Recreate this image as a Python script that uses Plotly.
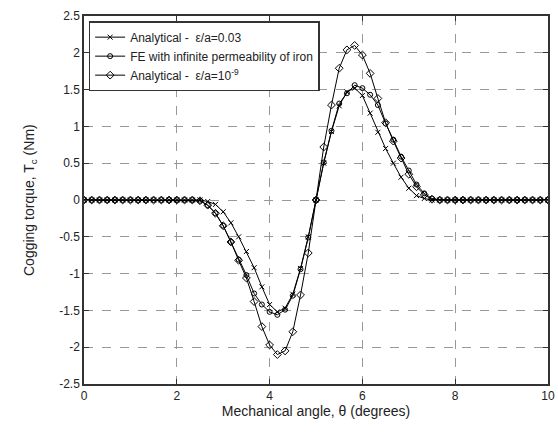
import plotly.graph_objects as go

angle = [i / 6 for i in range(61)]

torque_eps003 = [0]*15 + [0, -0.02, -0.06, -0.16, -0.31, -0.50, -0.70, -0.92, -1.18, -1.42,
                          -1.52, -1.47, -1.28, -0.93, -0.50, 0.0, 0.50, 0.93, 1.28, 1.47,
                          1.52, 1.42, 1.18, 0.92, 0.70, 0.50, 0.31, 0.16, 0.06, 0.02, 0] + [0]*15

torque_fe = [0]*15 + [-0.01, -0.07, -0.18, -0.35, -0.57, -0.81, -1.02, -1.27, -1.42, -1.52,
                      -1.56, -1.49, -1.30, -0.94, -0.51, 0.0, 0.51, 0.94, 1.31, 1.45,
                      1.56, 1.52, 1.43, 1.29, 1.04, 0.82, 0.59, 0.40, 0.21, 0.09, 0.02] + [0]*15

torque_eps1e9 = [0]*15 + [-0.01, -0.07, -0.18, -0.35, -0.57, -0.82, -1.06, -1.38, -1.72, -1.97,
                          -2.10, -2.05, -1.79, -1.29, -0.72, 0.0, 0.72, 1.29, 1.79, 2.04,
                          2.10, 1.97, 1.72, 1.38, 1.05, 0.80, 0.57, 0.35, 0.18, 0.07, 0.01] + [0]*15

x_ticks = [0, 2, 4, 6, 8, 10]
y_ticks = [2.5, 2, 1.5, 1, 0.5, 0, -0.5, -1, -1.5, -2, -2.5]

names = ["Analytical -  \u03b5/a=0.03",
         "FE with infinite permeability of iron",
         "Analytical -  \u03b5/a=10<sup>-9</sup>"]

FONT = "Liberation Sans, Arial"

fig = go.Figure()
fig.add_trace(go.Scatter(x=angle, y=torque_eps003, name=names[0], mode="lines+markers",
                         line=dict(color="black", width=1),
                         marker=dict(symbol="x-thin", size=5, line=dict(color="black", width=1))))
fig.add_trace(go.Scatter(x=angle, y=torque_fe, name=names[1], mode="lines+markers",
                         line=dict(color="black", width=1),
                         marker=dict(symbol="circle-open", size=5, color="black", line=dict(width=1))))
fig.add_trace(go.Scatter(x=angle, y=torque_eps1e9, name=names[2], mode="lines+markers",
                         line=dict(color="black", width=1),
                         marker=dict(symbol="diamond-open", size=6, color="black", line=dict(width=1))))

axis_common = dict(showline=True, linecolor="#333", linewidth=1.5, mirror="ticks",
                   ticks="inside", ticklen=5, tickcolor="#333",
                   showgrid=True, gridcolor="#999", griddash="dash", gridwidth=1,
                   zeroline=False, tickfont=dict(family=FONT, size=12, color="#222"))

fig.update_xaxes(range=[0, 10], tickvals=x_ticks, ticktext=[str(v) for v in x_ticks],
                 title=dict(text="Mechanical angle, \u03b8 (degrees)", standoff=4,
                            font=dict(family=FONT, size=14, color="#222")),
                 **axis_common)
fig.update_yaxes(range=[-2.5, 2.5], tickvals=y_ticks, ticktext=[str(v) for v in y_ticks],
                 **axis_common)

fig.add_annotation(text="Cogging torque, T<sub>c</sub> (Nm)", textangle=-90,
                   xref="paper", yref="paper", x=-54 / 464, y=0.5,
                   xanchor="center", yanchor="middle", showarrow=False,
                   font=dict(family=FONT, size=14, color="#222"))

fig.update_layout(
    width=558, height=435,
    margin=dict(l=84, r=10, t=16, b=51, autoexpand=False),
    paper_bgcolor="white", plot_bgcolor="white",
    showlegend=True,
    legend=dict(x=0.01, y=0.986, xanchor="left", yanchor="top",
                bgcolor="white", bordercolor="#333", borderwidth=1.5,
                font=dict(family=FONT, size=12, color="#222"),
                tracegroupgap=0, itemwidth=30),
)

fig.write_html("out.html")
